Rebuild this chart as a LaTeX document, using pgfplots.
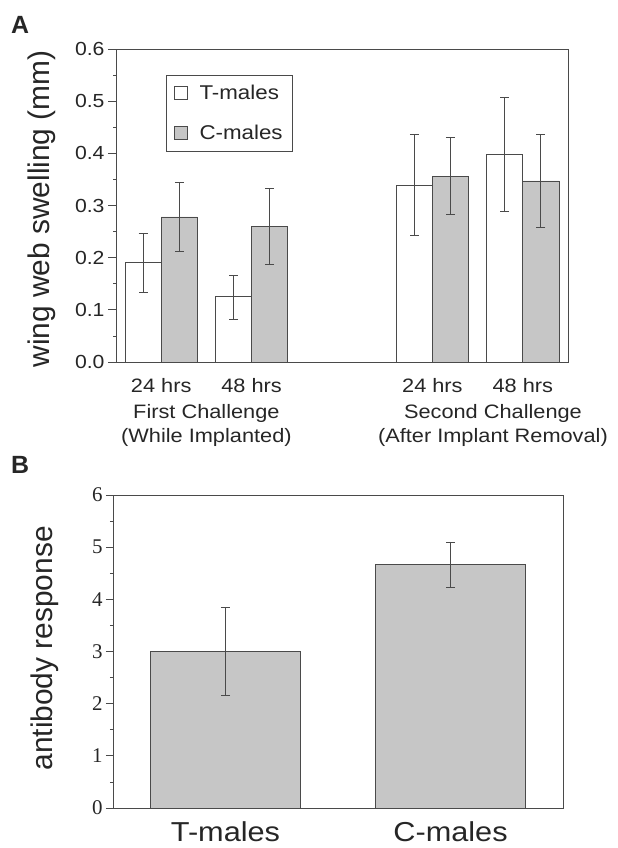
\documentclass[border=0pt]{standalone}
\usepackage{fontspec}
\setmainfont{Liberation Sans}
\newfontfamily\wsans[FakeStretch=1.12]{Liberation Sans}
\newfontfamily\tnr{Liberation Serif}
\usepackage{pgfplots}
\pgfplotsset{compat=1.18}
\definecolor{barg}{HTML}{C6C6C6}
\definecolor{axg}{HTML}{4A4A4A}
\definecolor{txt}{HTML}{262626}
\begin{document}
\begin{tikzpicture}
\path[use as bounding box] (0,0) rectangle (618bp,848bp);
\node[font=\fontsize{25}{25}\selectfont\bfseries, text=txt] at (20bp,823bp) {A};
\node[font=\fontsize{25}{25}\selectfont\bfseries, text=txt] at (20bp,383bp) {B};
\begin{axis}[
  at={(116bp,486bp)}, anchor=south west, scale only axis,
  width=452bp, height=313bp,
  xmin=-0.5, xmax=4.5, ymin=0, ymax=0.6,
  ybar=0pt, bar width=0.4,
  axis line style={axg, line width=0.9pt},
  every tick/.style={axg, line width=0.8pt},
  tick align=outside, ytick pos=left,
  major tick length=8bp, minor tick length=3bp,
  xtick={0,1,3,4}, xticklabels={24 hrs,48 hrs,24 hrs,48 hrs},
  xtick style={draw=none},
  x tick label style={font=\wsans\fontsize{19.5}{24}\selectfont, text=txt, yshift=-5bp},
  extra x ticks={0.5,3.67},
  extra x tick labels={{First Challenge\\(While Implanted)},{Second Challenge\\(After Implant Removal)}},
  extra x tick style={xtick style={draw=none}, tick label style={align=center, yshift=-26bp}},
  ytick={0,0.1,0.2,0.3,0.4,0.5,0.6},
  minor y tick num=1,
  /pgf/number format/assume math mode=true,
  y tick label style={/pgf/number format/.cd, fixed, fixed zerofill, precision=1, /tikz/.cd, font=\wsans\fontsize{19}{19}\selectfont, text=txt},
  ylabel={wing web swelling (mm)},
  ylabel style={at={(axis description cs:-0.164,0.489)}, anchor=center, font=\fontsize{30}{30}\selectfont, text=txt},
  legend image code/.code={\draw[#1, draw=axg, line width=0.8pt] (0bp,-6.5bp) rectangle (13bp,6.5bp); \path[draw=none, fill=none] (0bp,0bp) -- (23bp,0bp);},
  legend style={at={(axis description cs:0.11,0.917)}, anchor=north west, draw=axg, line width=0.9pt,
    font=\wsans\fontsize{20}{20}\selectfont, text=txt, row sep=20bp, inner xsep=8bp, inner ysep=8bp},
  legend cell align=left,
]
\addplot[fill=white, draw=axg, line width=0.9pt, bar shift=-0.2,
  error bars/.cd, y dir=both, y explicit,
  error bar style={line width=0.8pt, color=axg},
  error mark options={line width=0.8pt, mark size=4.5bp, color=axg, rotate=90}]
  coordinates {
  (0,0.190) += (0,0.057) -= (0,0.056)
  (1,0.125) += (0,0.041) -= (0,0.044)
  (3,0.339) += (0,0.097) -= (0,0.096)
  (4,0.397) += (0,0.110) -= (0,0.109)
  };
\addlegendentry{T-males}
\addplot[fill=barg, draw=axg, line width=0.9pt, bar shift=0.2,
  error bars/.cd, y dir=both, y explicit,
  error bar style={line width=0.8pt, color=axg},
  error mark options={line width=0.8pt, mark size=4.5bp, color=axg, rotate=90}]
  coordinates {
  (0,0.278) += (0,0.066) -= (0,0.066)
  (1,0.260) += (0,0.073) -= (0,0.073)
  (3,0.356) += (0,0.075) -= (0,0.074)
  (4,0.347) += (0,0.089) -= (0,0.089)
  };
\addlegendentry{C-males}
\end{axis}
\begin{axis}[
  at={(113bp,40bp)}, anchor=south west, scale only axis,
  width=450bp, height=313bp,
  xmin=-0.5, xmax=1.5, ymin=0, ymax=6,
  ybar, bar width=0.667,
  axis line style={axg, line width=0.9pt},
  every tick/.style={axg, line width=0.8pt},
  tick align=outside, ytick pos=left,
  major tick length=7bp, minor tick length=3bp,
  xtick={0,1}, xticklabels={T-males,C-males},
  xtick style={draw=none},
  x tick label style={font=\wsans\fontsize{27.5}{28}\selectfont, text=txt, inner sep=1bp, yshift=-5bp},
  ytick={0,1,2,3,4,5,6},
  minor y tick num=1,
  /pgf/number format/assume math mode=true,
  y tick label style={font=\tnr\fontsize{21}{21}\selectfont, text=txt},
  ylabel={antibody response},
  ylabel style={at={(axis description cs:-0.151,0.51)}, anchor=center, font=\fontsize{30}{30}\selectfont, text=txt},
]
\addplot[fill=barg, draw=axg, line width=0.9pt, bar shift=0pt,
  error bars/.cd, y dir=both, y explicit,
  error bar style={line width=0.8pt, color=axg},
  error mark options={line width=0.8pt, mark size=4.5bp, color=axg, rotate=90}]
  coordinates {
  (0,3.00) += (0,0.84) -= (0,0.85)
  (1,4.66) += (0,0.44) -= (0,0.44)
  };
\end{axis}
\end{tikzpicture}
\end{document}
